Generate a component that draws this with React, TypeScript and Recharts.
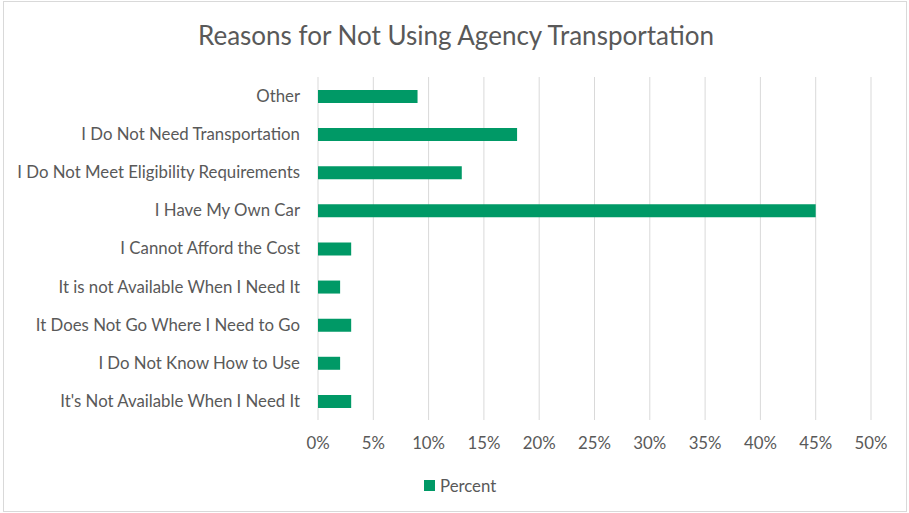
import React from "react";
import { BarChart, Bar, XAxis, YAxis, CartesianGrid } from "recharts";

const categories = [
  "Other",
  "I Do Not Need Transportation",
  "I Do Not Meet Eligibility Requirements",
  "I Have My Own Car",
  "I Cannot Afford the Cost",
  "It is not Available When I Need It",
  "It Does Not Go Where I Need to Go",
  "I Do Not Know How to Use",
  "It's Not Available When I Need It",
];
const percentValues = [9, 18, 13, 45, 3, 2, 3, 2, 3];
const xTicks = [0, 5, 10, 15, 20, 25, 30, 35, 40, 45, 50];

const data = categories.map((c, i) => ({ name: c, Percent: percentValues[i] }));

const FONT = "Lato, 'Open Sans', sans-serif";
const TEXT = "#595959";
const GREEN = "#009966";
const FS = 16.8;

export default function App() {
  return (
    <div style={{ position: "absolute", left: 0, top: 0, width: 909, height: 513, background: "#fff" }}>
      <div style={{ position: "absolute", left: 3, top: 1, width: 902, height: 509, border: "1px solid #d9d9d9" }} />
      <div style={{ position: "absolute", left: 0, top: 19, width: 912, textAlign: "center", fontFamily: FONT, fontSize: 26, color: TEXT }}>
        Reasons for Not Using Agency Transportation
      </div>
      <div style={{ position: "absolute", left: 0, top: 0 }}>
        <BarChart
          width={909}
          height={513}
          data={data}
          layout="vertical"
          margin={{ top: 77, right: 38, left: 0, bottom: 43 }}
        >
          <CartesianGrid horizontal={false} vertical={true} stroke="#d9d9d9" />
          <XAxis
            type="number"
            domain={[0, 50]}
            ticks={xTicks}
            tickFormatter={(v) => `${v}%`}
            axisLine={false}
            tickLine={false}
            tickSize={0}
            tickMargin={17}
            height={50}
            interval={0}
            tick={{ fill: TEXT, fontSize: FS, fontFamily: FONT }}
          />
          <YAxis
            type="category"
            dataKey="name"
            width={318}
            axisLine={false}
            tickLine={false}
            tickSize={0}
            tickMargin={18}
            interval={0}
            tick={{ fill: TEXT, fontSize: FS, fontFamily: FONT }}
          />
          <Bar dataKey="Percent" fill={GREEN} barSize={13} isAnimationActive={false} />
        </BarChart>
      </div>
      <div style={{ position: "absolute", left: 424, top: 474, display: "flex", alignItems: "center", fontFamily: FONT, fontSize: FS, color: TEXT, height: 22 }}>
        <span style={{ display: "inline-block", width: 11, height: 11, background: GREEN, marginRight: 5 }} />
        <span>Percent</span>
      </div>
    </div>
  );
}
